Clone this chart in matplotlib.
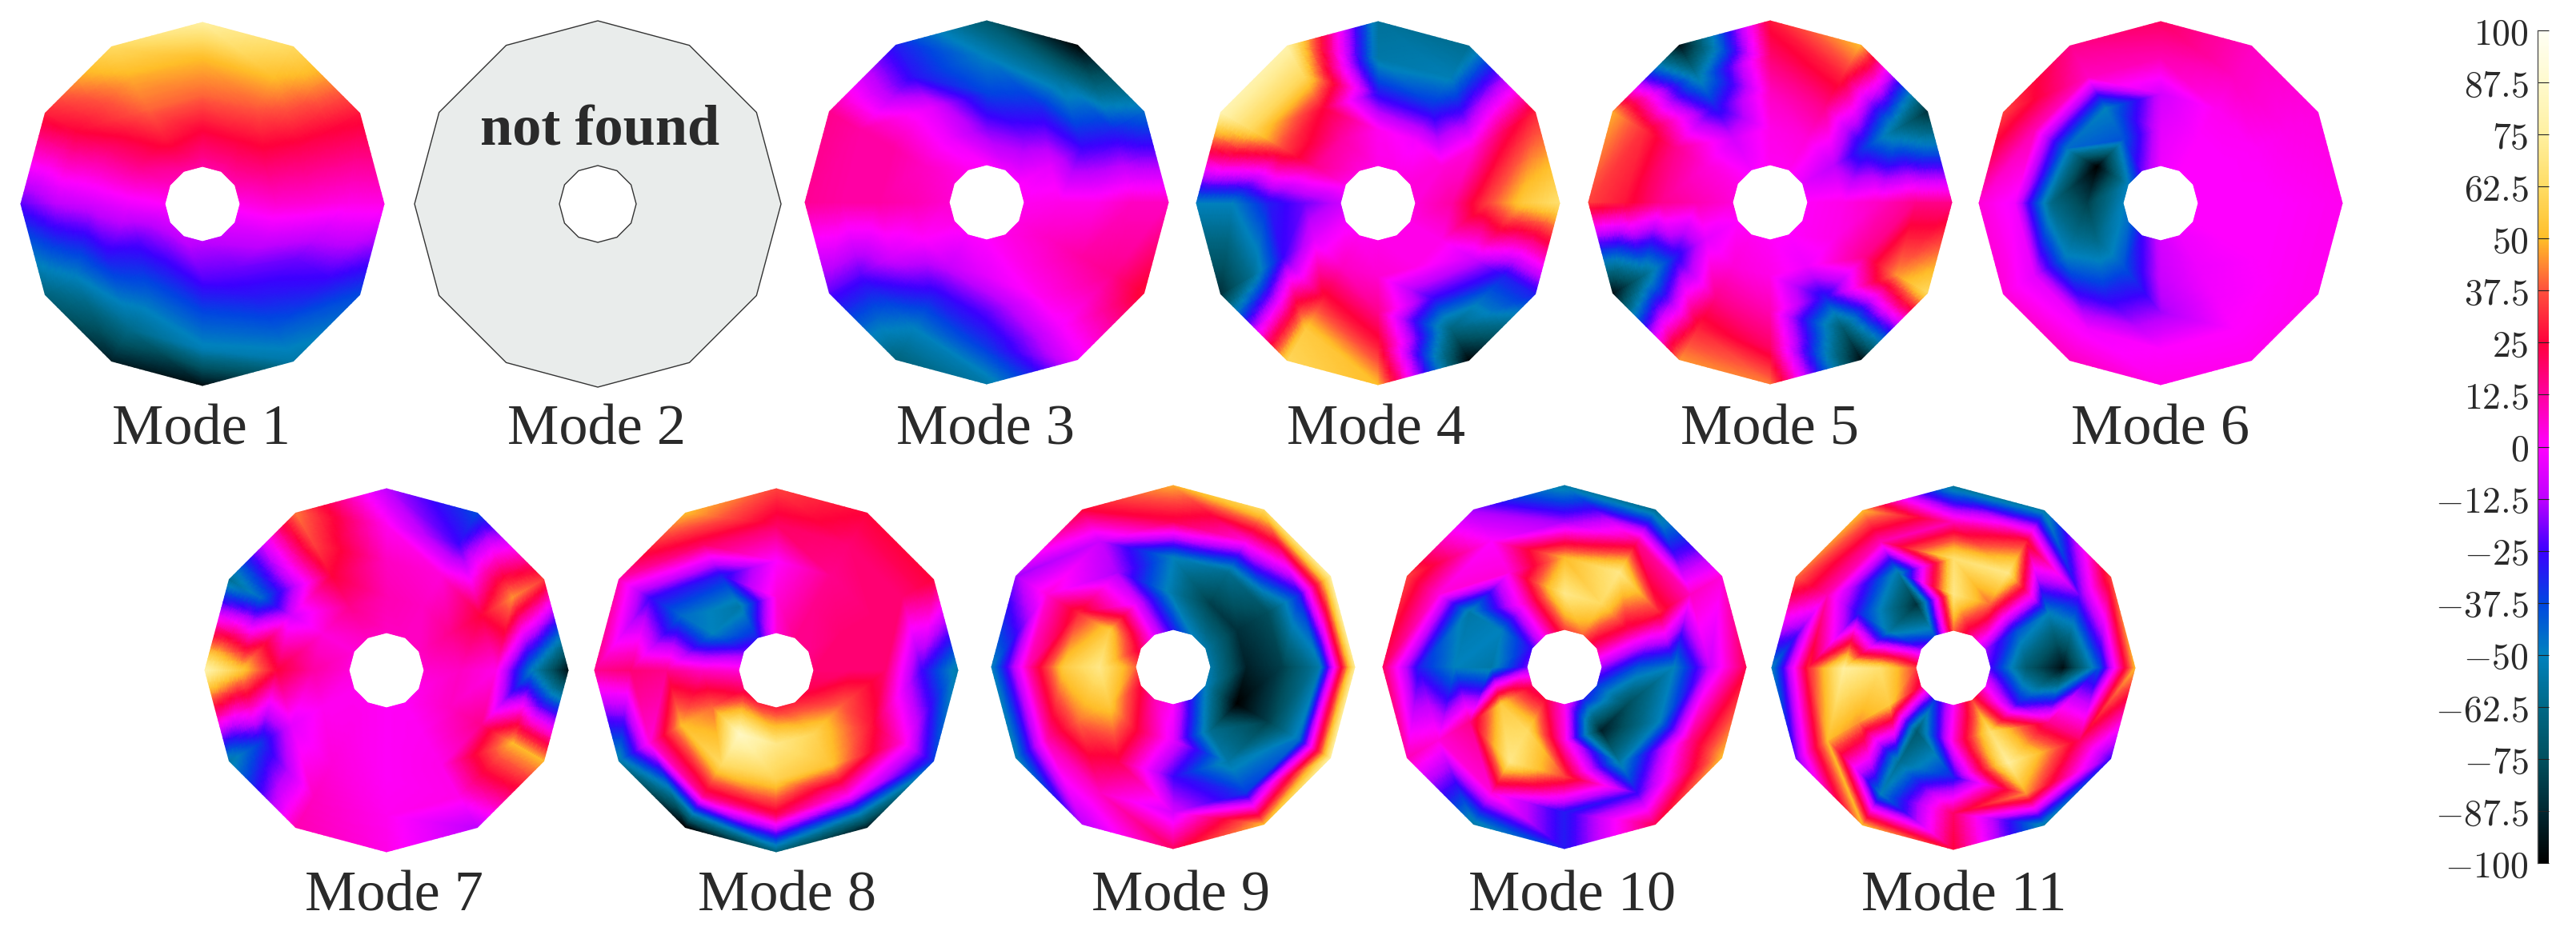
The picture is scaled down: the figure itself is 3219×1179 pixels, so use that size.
import numpy as np
import matplotlib
matplotlib.use("Agg")
import matplotlib.pyplot as plt
import matplotlib.tri as mtri
from matplotlib.colors import LinearSegmentedColormap, Normalize
from matplotlib.cm import ScalarMappable
from matplotlib.patches import Polygon

W, H = 3219, 1179
plt.rcParams['mathtext.fontset'] = 'cm'

# rows: rings from the inner to the outer edge; columns: clockwise from the top, every 30 degrees
mode1 = [[12,12,10,3,-5,-10,-12,-10,-8,0,8,12],
         [25,25,18,6,-10,-20,-22,-28,-22,-3,15,28],
         [40,38,22,5,-20,-30,-38,-45,-30,-8,18,40],
         [50,50,25,3,-25,-42,-52,-62,-50,-12,25,48],
         [75,62,28,3,-38,-55,-95,-90,-65,-22,30,62]]
mode3 = [[0,-3,0,2,4,3,0,-1,3,6,5,2],
         [-18,-18,-5,3,8,3,-5,-10,0,10,8,-3],
         [-37,-32,-25,3,12,2,-22,-30,-8,12,12,-5],
         [-50,-60,-32,8,15,-2,-35,-50,-22,12,12,-28],
         [-70,-98,-45,8,27,-3,-55,-65,-22,14,15,-30]]
mode4 = [[3,3,5,5,3,3,3,2,-2,-10,3,5],
         [2,-2,5,12,3,3,6,8,-5,-20,15,12],
         [-28,-32,5,35,-8,-25,15,28,-25,-30,35,25],
         [-55,-52,20,55,-30,-65,30,55,-60,-50,60,60],
         [-58,-60,30,65,-30,-98,50,60,-85,-50,80,78]]
mode5 = [[2,2,-5,1,1,0,1,2,0,5,3,-2],
         [3,5,-12,3,3,-3,3,5,-5,10,5,-8],
         [8,15,-35,8,15,-30,10,15,-30,15,15,-30],
         [18,30,-60,15,45,-70,20,30,-62,28,32,-55],
         [28,50,-85,15,62,-95,42,45,-95,35,48,-95]]
mode6 = [[-3,0,0,0,0,-3,-8,-25,-45,-50,-50,-20],
         [-5,0,0,0,0,-3,-10,-40,-62,-80,-100,-40],
         [-8,2,1,0,0,-2,-15,-28,-48,-62,-45,-50],
         [10,8,3,1,1,0,0,-2,-5,-2,10,8],
         [20,8,4,2,2,2,3,8,5,5,35,15]]
mode7 = [[8,8,8,6,3,1,1,2,2,5,5,8],
         [10,8,15,8,8,2,1,3,2,12,5,15],
         [8,5,25,3,15,3,1,5,-5,25,-8,25],
         [2,-25,45,-50,50,3,2,8,-35,55,-45,35],
         [-12,-38,35,-95,50,-12,3,10,-55,80,-60,42]]
mode8 = [[5,15,15,18,22,30,30,30,20,5,-20,-30],
         [5,15,18,18,40,60,70,85,40,8,-50,-55],
         [0,15,18,18,28,52,58,62,50,15,-45,-30],
         [20,18,18,-25,5,0,20,15,5,18,-25,20],
         [35,25,25,-55,-35,-90,-65,-100,-55,15,10,50]]
mode9 = [[-30,-50,-55,-55,-50,-30,0,10,25,40,20,-5],
         [-55,-80,-85,-90,-100,-60,-5,25,55,70,55,-5],
         [-50,-60,-75,-80,-80,-55,-25,22,40,55,30,-15],
         [22,5,-30,-55,-45,-35,-8,8,10,10,5,-10],
         [48,62,75,72,75,50,20,-12,-52,-50,-15,25]]
mode10 = [[35,40,15,-15,-35,-30,2,25,20,-20,-25,5],
          [70,62,20,-40,-75,-90,5,62,55,-55,-50,10],
          [50,70,30,-50,-50,-55,35,70,15,-50,-55,5],
          [-15,15,8,-10,15,-25,-30,5,5,-30,5,0],
          [-55,-60,5,22,50,22,-30,-55,10,20,35,-15]]
mode11 = [[40,15,-15,-25,0,35,0,-35,20,35,-15,-40],
          [70,40,-40,-70,-25,65,5,-70,55,65,-55,-85],
          [65,70,-50,-95,15,75,-30,-60,45,75,-30,-55],
          [10,30,-20,-40,20,45,20,-50,50,30,10,10],
          [-58,-55,35,50,-25,-55,25,50,-20,-50,40,50]]

ring_radii = [47, 92, 137, 182, 227]
mode_values = [mode1, None, mode3, mode4, mode5, mode6, mode7, mode8, mode9, mode10, mode11]
mode_names = ["Mode 1", "Mode 2", "Mode 3", "Mode 4", "Mode 5", "Mode 6",
              "Mode 7", "Mode 8", "Mode 9", "Mode 10", "Mode 11"]
centres = [(253,255),(747,255),(1233,253),(1722,254),(2212,253),(2700,254),
           (483,838),(970,838),(1466,834),(1955,834),(2441,835)]
label_pos = [(251,538),(745,538),(1232,538),(1720,538),(2212,538),(2700,538),
             (493,1121),(984,1121),(1476,1121),(1965,1121),(2454,1121)]
cbar_ticks = [100,87.5,75,62.5,50,37.5,25,12.5,0,-12.5,-25,-37.5,-50,-62.5,-75,-87.5,-100]
cmap_values = [-100,-87.5,-75,-62.5,-50,-37.5,-25,-12.5,0,12.5,25,37.5,50,62.5,75,87.5,100]
cmap_colors = [(0,0,0),(0,40,50),(0,80,95),(0,105,135),(0,130,190),(0,70,225),(60,0,255),(190,0,255),
               (255,0,255),(255,0,160),(255,0,60),(255,80,60),(255,190,40),(255,220,100),(255,240,160),
               (255,250,205),(255,255,245)]

cmap = LinearSegmentedColormap.from_list(
    "modes", [((v+100)/200, tuple(c/255 for c in col)) for v, col in zip(cmap_values, cmap_colors)], N=512)
norm = Normalize(-100, 100)

fig = plt.figure(figsize=(W/100, H/100), dpi=100)
PAD = 240
angles = np.radians(np.arange(12)*30.0)

def panel(cx, cy):
    ax = fig.add_axes([(cx-PAD)/W, 1-(cy+PAD)/H, 2*PAD/W, 2*PAD/H])
    ax.set_xlim(-PAD, PAD); ax.set_ylim(-PAD, PAD); ax.axis('off')
    return ax

def ring_xy(r):
    return r*np.sin(angles), r*np.cos(angles)

for vals, name, (cx, cy), (lx, ly) in zip(mode_values, mode_names, centres, label_pos):
    ax = panel(cx, cy)
    if vals is None:
        ax.add_patch(Polygon(np.c_[ring_xy(229)], fc='#e9eceb', ec='#333333', lw=1.0))
        ax.add_patch(Polygon(np.c_[ring_xy(48)], fc='white', ec='#333333', lw=1.0))
        ax.text(3, 91, "not found", ha='center', va='center', family='Liberation Serif',
                weight='bold', fontsize=52, color='#2a2a2a')
    else:
        x = np.concatenate([ring_xy(r)[0] for r in ring_radii])
        y = np.concatenate([ring_xy(r)[1] for r in ring_radii])
        z = np.asarray(vals, float).ravel()
        tris = []
        for i in range(len(ring_radii)-1):
            for j in range(12):
                a, b = i*12+j, i*12+(j+1) % 12
                c, d = a+12, b+12
                tris += [[a, b, c], [b, d, c]]
        tri = mtri.Triangulation(x, y, tris)
        ft, fz = mtri.UniformTriRefiner(tri).refine_field(
            z, triinterpolator=mtri.LinearTriInterpolator(tri, z), subdiv=4)
        ax.tripcolor(ft, fz, shading='gouraud', cmap=cmap, norm=norm, rasterized=True)
    fig.text(lx/W, 1-ly/H, name, ha='center', va='center', family='Liberation Serif',
             fontsize=52, color='#2a2a2a')

cax = fig.add_axes([3171/W, 1-1079/H, 14/W, 1041/H])
cb = fig.colorbar(ScalarMappable(norm=norm, cmap=cmap), cax=cax)
cb.outline.set_visible(False)
cax.yaxis.set_ticks_position('left')
cax.set_yticks(cbar_ticks)
cax.set_yticklabels([("$%s$" % f"{t:g}") for t in cbar_ticks])
cax.tick_params(axis='y', direction='in', length=10, width=0.8, color='#222222',
                labelsize=33, pad=8, labelcolor='#2a2a2a')
cax.spines['left'].set_visible(True)
cax.spines['left'].set_color('#555555')
cax.spines['left'].set_linewidth(1.0)

fig.savefig("out.png", dpi=100)
